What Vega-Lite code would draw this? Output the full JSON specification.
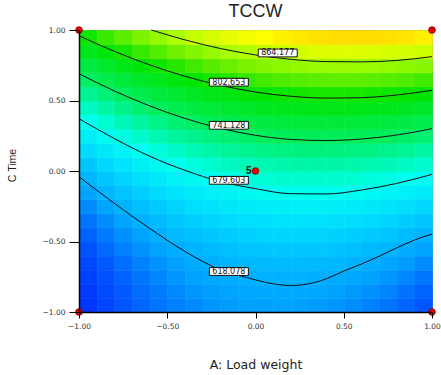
{
  "$schema": "https://vega.github.io/schema/vega-lite/v6.json",
  "width": 353,
  "height": 282,
  "autosize": {"type": "none"},
  "padding": {"left": 79, "top": 30, "right": 9, "bottom": 63},
  "background": "white",
  "view": {"stroke": "#999999", "strokeWidth": 1},
  "title": {"text": "TCCW", "font": "Liberation Sans", "fontSize": 18, "fontWeight": "normal", "color": "#222222", "anchor": "middle", "frame": "group", "offset": 4},
  "config": {
    "axis": {"grid": false, "labelFlush": false, "labelOverlap": false, "labelBound": false, "domainColor": "#000000", "domainWidth": 1.5, "tickColor": "#000000", "tickWidth": 1, "labelFont": "DejaVu Sans", "labelFontSize": 7.5, "labelColor": "#333333"}
  },
  "datasets": {
    "grid": [
      {"A":-0.95,"C":-0.95,"v":559},{"A":-0.85,"C":-0.95,"v":568},{"A":-0.75,"C":-0.95,"v":577},{"A":-0.65,"C":-0.95,"v":584},{"A":-0.55,"C":-0.95,"v":590},{"A":-0.45,"C":-0.95,"v":596},{"A":-0.35,"C":-0.95,"v":600},{"A":-0.25,"C":-0.95,"v":604},{"A":-0.15,"C":-0.95,"v":607},{"A":-0.05,"C":-0.95,"v":609},{"A":0.05,"C":-0.95,"v":609},{"A":0.15,"C":-0.95,"v":610},{"A":0.25,"C":-0.95,"v":609},{"A":0.35,"C":-0.95,"v":607},{"A":0.45,"C":-0.95,"v":604},{"A":0.55,"C":-0.95,"v":601},{"A":0.65,"C":-0.95,"v":596},{"A":0.75,"C":-0.95,"v":591},{"A":0.85,"C":-0.95,"v":584},{"A":0.95,"C":-0.95,"v":577},
      {"A":-0.95,"C":-0.85,"v":562},{"A":-0.85,"C":-0.85,"v":571},{"A":-0.75,"C":-0.85,"v":579},{"A":-0.65,"C":-0.85,"v":587},{"A":-0.55,"C":-0.85,"v":593},{"A":-0.45,"C":-0.85,"v":599},{"A":-0.35,"C":-0.85,"v":604},{"A":-0.25,"C":-0.85,"v":608},{"A":-0.15,"C":-0.85,"v":611},{"A":-0.05,"C":-0.85,"v":613},{"A":0.05,"C":-0.85,"v":614},{"A":0.15,"C":-0.85,"v":614},{"A":0.25,"C":-0.85,"v":614},{"A":0.35,"C":-0.85,"v":612},{"A":0.45,"C":-0.85,"v":609},{"A":0.55,"C":-0.85,"v":606},{"A":0.65,"C":-0.85,"v":602},{"A":0.75,"C":-0.85,"v":597},{"A":0.85,"C":-0.85,"v":590},{"A":0.95,"C":-0.85,"v":583},
      {"A":-0.95,"C":-0.75,"v":565},{"A":-0.85,"C":-0.75,"v":575},{"A":-0.75,"C":-0.75,"v":583},{"A":-0.65,"C":-0.75,"v":591},{"A":-0.55,"C":-0.75,"v":598},{"A":-0.45,"C":-0.75,"v":604},{"A":-0.35,"C":-0.75,"v":609},{"A":-0.25,"C":-0.75,"v":613},{"A":-0.15,"C":-0.75,"v":616},{"A":-0.05,"C":-0.75,"v":618},{"A":0.05,"C":-0.75,"v":620},{"A":0.15,"C":-0.75,"v":620},{"A":0.25,"C":-0.75,"v":620},{"A":0.35,"C":-0.75,"v":618},{"A":0.45,"C":-0.75,"v":616},{"A":0.55,"C":-0.75,"v":613},{"A":0.65,"C":-0.75,"v":609},{"A":0.75,"C":-0.75,"v":604},{"A":0.85,"C":-0.75,"v":598},{"A":0.95,"C":-0.75,"v":591},
      {"A":-0.95,"C":-0.65,"v":570},{"A":-0.85,"C":-0.65,"v":579},{"A":-0.75,"C":-0.65,"v":588},{"A":-0.65,"C":-0.65,"v":596},{"A":-0.55,"C":-0.65,"v":603},{"A":-0.45,"C":-0.65,"v":609},{"A":-0.35,"C":-0.65,"v":615},{"A":-0.25,"C":-0.65,"v":619},{"A":-0.15,"C":-0.65,"v":622},{"A":-0.05,"C":-0.65,"v":625},{"A":0.05,"C":-0.65,"v":626},{"A":0.15,"C":-0.65,"v":627},{"A":0.25,"C":-0.65,"v":627},{"A":0.35,"C":-0.65,"v":626},{"A":0.45,"C":-0.65,"v":624},{"A":0.55,"C":-0.65,"v":621},{"A":0.65,"C":-0.65,"v":617},{"A":0.75,"C":-0.65,"v":612},{"A":0.85,"C":-0.65,"v":607},{"A":0.95,"C":-0.65,"v":600},
      {"A":-0.95,"C":-0.55,"v":576},{"A":-0.85,"C":-0.55,"v":586},{"A":-0.75,"C":-0.55,"v":595},{"A":-0.65,"C":-0.55,"v":603},{"A":-0.55,"C":-0.55,"v":610},{"A":-0.45,"C":-0.55,"v":616},{"A":-0.35,"C":-0.55,"v":622},{"A":-0.25,"C":-0.55,"v":626},{"A":-0.15,"C":-0.55,"v":630},{"A":-0.05,"C":-0.55,"v":633},{"A":0.05,"C":-0.55,"v":635},{"A":0.15,"C":-0.55,"v":635},{"A":0.25,"C":-0.55,"v":635},{"A":0.35,"C":-0.55,"v":635},{"A":0.45,"C":-0.55,"v":633},{"A":0.55,"C":-0.55,"v":630},{"A":0.65,"C":-0.55,"v":626},{"A":0.75,"C":-0.55,"v":622},{"A":0.85,"C":-0.55,"v":616},{"A":0.95,"C":-0.55,"v":610},
      {"A":-0.95,"C":-0.45,"v":583},{"A":-0.85,"C":-0.45,"v":593},{"A":-0.75,"C":-0.45,"v":602},{"A":-0.65,"C":-0.45,"v":610},{"A":-0.55,"C":-0.45,"v":618},{"A":-0.45,"C":-0.45,"v":625},{"A":-0.35,"C":-0.45,"v":630},{"A":-0.25,"C":-0.45,"v":635},{"A":-0.15,"C":-0.45,"v":639},{"A":-0.05,"C":-0.45,"v":642},{"A":0.05,"C":-0.45,"v":644},{"A":0.15,"C":-0.45,"v":645},{"A":0.25,"C":-0.45,"v":645},{"A":0.35,"C":-0.45,"v":644},{"A":0.45,"C":-0.45,"v":643},{"A":0.55,"C":-0.45,"v":640},{"A":0.65,"C":-0.45,"v":637},{"A":0.75,"C":-0.45,"v":633},{"A":0.85,"C":-0.45,"v":627},{"A":0.95,"C":-0.45,"v":621},
      {"A":-0.95,"C":-0.35,"v":591},{"A":-0.85,"C":-0.35,"v":601},{"A":-0.75,"C":-0.35,"v":611},{"A":-0.65,"C":-0.35,"v":619},{"A":-0.55,"C":-0.35,"v":627},{"A":-0.45,"C":-0.35,"v":634},{"A":-0.35,"C":-0.35,"v":640},{"A":-0.25,"C":-0.35,"v":645},{"A":-0.15,"C":-0.35,"v":649},{"A":-0.05,"C":-0.35,"v":652},{"A":0.05,"C":-0.35,"v":654},{"A":0.15,"C":-0.35,"v":656},{"A":0.25,"C":-0.35,"v":656},{"A":0.35,"C":-0.35,"v":656},{"A":0.45,"C":-0.35,"v":654},{"A":0.55,"C":-0.35,"v":652},{"A":0.65,"C":-0.35,"v":649},{"A":0.75,"C":-0.35,"v":645},{"A":0.85,"C":-0.35,"v":640},{"A":0.95,"C":-0.35,"v":634},
      {"A":-0.95,"C":-0.25,"v":600},{"A":-0.85,"C":-0.25,"v":611},{"A":-0.75,"C":-0.25,"v":621},{"A":-0.65,"C":-0.25,"v":630},{"A":-0.55,"C":-0.25,"v":637},{"A":-0.45,"C":-0.25,"v":644},{"A":-0.35,"C":-0.25,"v":651},{"A":-0.25,"C":-0.25,"v":656},{"A":-0.15,"C":-0.25,"v":660},{"A":-0.05,"C":-0.25,"v":663},{"A":0.05,"C":-0.25,"v":666},{"A":0.15,"C":-0.25,"v":667},{"A":0.25,"C":-0.25,"v":668},{"A":0.35,"C":-0.25,"v":668},{"A":0.45,"C":-0.25,"v":667},{"A":0.55,"C":-0.25,"v":665},{"A":0.65,"C":-0.25,"v":662},{"A":0.75,"C":-0.25,"v":658},{"A":0.85,"C":-0.25,"v":653},{"A":0.95,"C":-0.25,"v":647},
      {"A":-0.95,"C":-0.15,"v":611},{"A":-0.85,"C":-0.15,"v":622},{"A":-0.75,"C":-0.15,"v":632},{"A":-0.65,"C":-0.15,"v":641},{"A":-0.55,"C":-0.15,"v":649},{"A":-0.45,"C":-0.15,"v":656},{"A":-0.35,"C":-0.15,"v":663},{"A":-0.25,"C":-0.15,"v":668},{"A":-0.15,"C":-0.15,"v":672},{"A":-0.05,"C":-0.15,"v":676},{"A":0.05,"C":-0.15,"v":679},{"A":0.15,"C":-0.15,"v":681},{"A":0.25,"C":-0.15,"v":681},{"A":0.35,"C":-0.15,"v":681},{"A":0.45,"C":-0.15,"v":680},{"A":0.55,"C":-0.15,"v":679},{"A":0.65,"C":-0.15,"v":676},{"A":0.75,"C":-0.15,"v":672},{"A":0.85,"C":-0.15,"v":668},{"A":0.95,"C":-0.15,"v":662},
      {"A":-0.95,"C":-0.05,"v":623},{"A":-0.85,"C":-0.05,"v":634},{"A":-0.75,"C":-0.05,"v":644},{"A":-0.65,"C":-0.05,"v":653},{"A":-0.55,"C":-0.05,"v":662},{"A":-0.45,"C":-0.05,"v":669},{"A":-0.35,"C":-0.05,"v":676},{"A":-0.25,"C":-0.05,"v":681},{"A":-0.15,"C":-0.05,"v":686},{"A":-0.05,"C":-0.05,"v":690},{"A":0.05,"C":-0.05,"v":693},{"A":0.15,"C":-0.05,"v":695},{"A":0.25,"C":-0.05,"v":696},{"A":0.35,"C":-0.05,"v":696},{"A":0.45,"C":-0.05,"v":695},{"A":0.55,"C":-0.05,"v":694},{"A":0.65,"C":-0.05,"v":691},{"A":0.75,"C":-0.05,"v":688},{"A":0.85,"C":-0.05,"v":683},{"A":0.95,"C":-0.05,"v":678},
      {"A":-0.95,"C":0.05,"v":636},{"A":-0.85,"C":0.05,"v":647},{"A":-0.75,"C":0.05,"v":658},{"A":-0.65,"C":0.05,"v":667},{"A":-0.55,"C":0.05,"v":676},{"A":-0.45,"C":0.05,"v":683},{"A":-0.35,"C":0.05,"v":690},{"A":-0.25,"C":0.05,"v":696},{"A":-0.15,"C":0.05,"v":701},{"A":-0.05,"C":0.05,"v":705},{"A":0.05,"C":0.05,"v":708},{"A":0.15,"C":0.05,"v":710},{"A":0.25,"C":0.05,"v":712},{"A":0.35,"C":0.05,"v":712},{"A":0.45,"C":0.05,"v":712},{"A":0.55,"C":0.05,"v":710},{"A":0.65,"C":0.05,"v":708},{"A":0.75,"C":0.05,"v":705},{"A":0.85,"C":0.05,"v":700},{"A":0.95,"C":0.05,"v":695},
      {"A":-0.95,"C":0.15,"v":650},{"A":-0.85,"C":0.15,"v":662},{"A":-0.75,"C":0.15,"v":672},{"A":-0.65,"C":0.15,"v":682},{"A":-0.55,"C":0.15,"v":691},{"A":-0.45,"C":0.15,"v":699},{"A":-0.35,"C":0.15,"v":706},{"A":-0.25,"C":0.15,"v":712},{"A":-0.15,"C":0.15,"v":717},{"A":-0.05,"C":0.15,"v":721},{"A":0.05,"C":0.15,"v":725},{"A":0.15,"C":0.15,"v":727},{"A":0.25,"C":0.15,"v":729},{"A":0.35,"C":0.15,"v":729},{"A":0.45,"C":0.15,"v":729},{"A":0.55,"C":0.15,"v":728},{"A":0.65,"C":0.15,"v":726},{"A":0.75,"C":0.15,"v":723},{"A":0.85,"C":0.15,"v":719},{"A":0.95,"C":0.15,"v":714},
      {"A":-0.95,"C":0.25,"v":666},{"A":-0.85,"C":0.25,"v":677},{"A":-0.75,"C":0.25,"v":688},{"A":-0.65,"C":0.25,"v":698},{"A":-0.55,"C":0.25,"v":707},{"A":-0.45,"C":0.25,"v":715},{"A":-0.35,"C":0.25,"v":722},{"A":-0.25,"C":0.25,"v":729},{"A":-0.15,"C":0.25,"v":734},{"A":-0.05,"C":0.25,"v":739},{"A":0.05,"C":0.25,"v":742},{"A":0.15,"C":0.25,"v":745},{"A":0.25,"C":0.25,"v":747},{"A":0.35,"C":0.25,"v":747},{"A":0.45,"C":0.25,"v":747},{"A":0.55,"C":0.25,"v":746},{"A":0.65,"C":0.25,"v":745},{"A":0.75,"C":0.25,"v":742},{"A":0.85,"C":0.25,"v":738},{"A":0.95,"C":0.25,"v":734},
      {"A":-0.95,"C":0.35,"v":682},{"A":-0.85,"C":0.35,"v":694},{"A":-0.75,"C":0.35,"v":705},{"A":-0.65,"C":0.35,"v":715},{"A":-0.55,"C":0.35,"v":725},{"A":-0.45,"C":0.35,"v":733},{"A":-0.35,"C":0.35,"v":740},{"A":-0.25,"C":0.35,"v":747},{"A":-0.15,"C":0.35,"v":753},{"A":-0.05,"C":0.35,"v":757},{"A":0.05,"C":0.35,"v":761},{"A":0.15,"C":0.35,"v":764},{"A":0.25,"C":0.35,"v":766},{"A":0.35,"C":0.35,"v":767},{"A":0.45,"C":0.35,"v":767},{"A":0.55,"C":0.35,"v":766},{"A":0.65,"C":0.35,"v":765},{"A":0.75,"C":0.35,"v":762},{"A":0.85,"C":0.35,"v":759},{"A":0.95,"C":0.35,"v":754},
      {"A":-0.95,"C":0.45,"v":700},{"A":-0.85,"C":0.45,"v":712},{"A":-0.75,"C":0.45,"v":724},{"A":-0.65,"C":0.45,"v":734},{"A":-0.55,"C":0.45,"v":743},{"A":-0.45,"C":0.45,"v":752},{"A":-0.35,"C":0.45,"v":760},{"A":-0.25,"C":0.45,"v":766},{"A":-0.15,"C":0.45,"v":772},{"A":-0.05,"C":0.45,"v":777},{"A":0.05,"C":0.45,"v":781},{"A":0.15,"C":0.45,"v":784},{"A":0.25,"C":0.45,"v":786},{"A":0.35,"C":0.45,"v":788},{"A":0.45,"C":0.45,"v":788},{"A":0.55,"C":0.45,"v":788},{"A":0.65,"C":0.45,"v":786},{"A":0.75,"C":0.45,"v":784},{"A":0.85,"C":0.45,"v":781},{"A":0.95,"C":0.45,"v":776},
      {"A":-0.95,"C":0.55,"v":719},{"A":-0.85,"C":0.55,"v":732},{"A":-0.75,"C":0.55,"v":743},{"A":-0.65,"C":0.55,"v":754},{"A":-0.55,"C":0.55,"v":763},{"A":-0.45,"C":0.55,"v":772},{"A":-0.35,"C":0.55,"v":780},{"A":-0.25,"C":0.55,"v":787},{"A":-0.15,"C":0.55,"v":793},{"A":-0.05,"C":0.55,"v":798},{"A":0.05,"C":0.55,"v":802},{"A":0.15,"C":0.55,"v":806},{"A":0.25,"C":0.55,"v":808},{"A":0.35,"C":0.55,"v":810},{"A":0.45,"C":0.55,"v":810},{"A":0.55,"C":0.55,"v":810},{"A":0.65,"C":0.55,"v":809},{"A":0.75,"C":0.55,"v":807},{"A":0.85,"C":0.55,"v":804},{"A":0.95,"C":0.55,"v":800},
      {"A":-0.95,"C":0.65,"v":739},{"A":-0.85,"C":0.65,"v":752},{"A":-0.75,"C":0.65,"v":764},{"A":-0.65,"C":0.65,"v":775},{"A":-0.55,"C":0.65,"v":784},{"A":-0.45,"C":0.65,"v":793},{"A":-0.35,"C":0.65,"v":802},{"A":-0.25,"C":0.65,"v":809},{"A":-0.15,"C":0.65,"v":815},{"A":-0.05,"C":0.65,"v":820},{"A":0.05,"C":0.65,"v":825},{"A":0.15,"C":0.65,"v":828},{"A":0.25,"C":0.65,"v":831},{"A":0.35,"C":0.65,"v":833},{"A":0.45,"C":0.65,"v":834},{"A":0.55,"C":0.65,"v":834},{"A":0.65,"C":0.65,"v":833},{"A":0.75,"C":0.65,"v":831},{"A":0.85,"C":0.65,"v":828},{"A":0.95,"C":0.65,"v":824},
      {"A":-0.95,"C":0.75,"v":761},{"A":-0.85,"C":0.75,"v":774},{"A":-0.75,"C":0.75,"v":786},{"A":-0.65,"C":0.75,"v":797},{"A":-0.55,"C":0.75,"v":807},{"A":-0.45,"C":0.75,"v":816},{"A":-0.35,"C":0.75,"v":824},{"A":-0.25,"C":0.75,"v":832},{"A":-0.15,"C":0.75,"v":838},{"A":-0.05,"C":0.75,"v":844},{"A":0.05,"C":0.75,"v":849},{"A":0.15,"C":0.75,"v":852},{"A":0.25,"C":0.75,"v":855},{"A":0.35,"C":0.75,"v":857},{"A":0.45,"C":0.75,"v":858},{"A":0.55,"C":0.75,"v":858},{"A":0.65,"C":0.75,"v":857},{"A":0.75,"C":0.75,"v":856},{"A":0.85,"C":0.75,"v":853},{"A":0.95,"C":0.75,"v":850},
      {"A":-0.95,"C":0.85,"v":784},{"A":-0.85,"C":0.85,"v":797},{"A":-0.75,"C":0.85,"v":809},{"A":-0.65,"C":0.85,"v":820},{"A":-0.55,"C":0.85,"v":830},{"A":-0.45,"C":0.85,"v":840},{"A":-0.35,"C":0.85,"v":848},{"A":-0.25,"C":0.85,"v":856},{"A":-0.15,"C":0.85,"v":863},{"A":-0.05,"C":0.85,"v":868},{"A":0.05,"C":0.85,"v":873},{"A":0.15,"C":0.85,"v":877},{"A":0.25,"C":0.85,"v":880},{"A":0.35,"C":0.85,"v":883},{"A":0.45,"C":0.85,"v":884},{"A":0.55,"C":0.85,"v":884},{"A":0.65,"C":0.85,"v":884},{"A":0.75,"C":0.85,"v":882},{"A":0.85,"C":0.85,"v":880},{"A":0.95,"C":0.85,"v":877},
      {"A":-0.95,"C":0.95,"v":807},{"A":-0.85,"C":0.95,"v":821},{"A":-0.75,"C":0.95,"v":833},{"A":-0.65,"C":0.95,"v":845},{"A":-0.55,"C":0.95,"v":855},{"A":-0.45,"C":0.95,"v":865},{"A":-0.35,"C":0.95,"v":874},{"A":-0.25,"C":0.95,"v":881},{"A":-0.15,"C":0.95,"v":888},{"A":-0.05,"C":0.95,"v":894},{"A":0.05,"C":0.95,"v":899},{"A":0.15,"C":0.95,"v":904},{"A":0.25,"C":0.95,"v":907},{"A":0.35,"C":0.95,"v":909},{"A":0.45,"C":0.95,"v":911},{"A":0.55,"C":0.95,"v":911},{"A":0.65,"C":0.95,"v":911},{"A":0.75,"C":0.95,"v":910},{"A":0.85,"C":0.95,"v":908},{"A":0.95,"C":0.95,"v":905}
    ],
    "contours": [
      {"level":"618.078","A":-1,"C":-0.041},{"level":"618.078","A":-0.8,"C":-0.229},{"level":"618.078","A":-0.6,"C":-0.407},{"level":"618.078","A":-0.4,"C":-0.57},{"level":"618.078","A":-0.2,"C":-0.70},{"level":"618.078","A":-0.05,"C":-0.755},{"level":"618.078","A":0.1,"C":-0.80},{"level":"618.078","A":0.2,"C":-0.812},{"level":"618.078","A":0.3,"C":-0.80},{"level":"618.078","A":0.4,"C":-0.765},{"level":"618.078","A":0.5,"C":-0.71},{"level":"618.078","A":0.6,"C":-0.66},{"level":"618.078","A":0.7,"C":-0.605},{"level":"618.078","A":0.8,"C":-0.545},{"level":"618.078","A":0.9,"C":-0.49},{"level":"618.078","A":1,"C":-0.447},
      {"level":"679.603","A":-1,"C":0.371},{"level":"679.603","A":-0.8,"C":0.230},{"level":"679.603","A":-0.6,"C":0.105},{"level":"679.603","A":-0.4,"C":0.005},{"level":"679.603","A":-0.2,"C":-0.075},{"level":"679.603","A":0,"C":-0.125},{"level":"679.603","A":0.2,"C":-0.161},{"level":"679.603","A":0.4,"C":-0.163},{"level":"679.603","A":0.6,"C":-0.135},{"level":"679.603","A":0.8,"C":-0.088},{"level":"679.603","A":1,"C":-0.024},
      {"level":"741.128","A":-1,"C":0.690},{"level":"741.128","A":-0.8,"C":0.568},{"level":"741.128","A":-0.6,"C":0.462},{"level":"741.128","A":-0.4,"C":0.373},{"level":"741.128","A":-0.2,"C":0.303},{"level":"741.128","A":0,"C":0.253},{"level":"741.128","A":0.2,"C":0.224},{"level":"741.128","A":0.4,"C":0.216},{"level":"741.128","A":0.6,"C":0.227},{"level":"741.128","A":0.8,"C":0.255},{"level":"741.128","A":1,"C":0.300},
      {"level":"802.653","A":-1,"C":0.959},{"level":"802.653","A":-0.8,"C":0.849},{"level":"802.653","A":-0.6,"C":0.753},{"level":"802.653","A":-0.4,"C":0.672},{"level":"802.653","A":-0.2,"C":0.608},{"level":"802.653","A":0,"C":0.560},{"level":"802.653","A":0.2,"C":0.530},{"level":"802.653","A":0.4,"C":0.517},{"level":"802.653","A":0.6,"C":0.520},{"level":"802.653","A":0.8,"C":0.539},{"level":"802.653","A":1,"C":0.572},
      {"level":"864.177","A":-0.59,"C":1.0},{"level":"864.177","A":-0.4,"C":0.930},{"level":"864.177","A":-0.2,"C":0.869},{"level":"864.177","A":0,"C":0.823},{"level":"864.177","A":0.2,"C":0.792},{"level":"864.177","A":0.4,"C":0.776},{"level":"864.177","A":0.6,"C":0.774},{"level":"864.177","A":0.8,"C":0.784},{"level":"864.177","A":1,"C":0.811}
    ],
    "labels": [
      {"A":0.126,"C":0.837,"t":"864.177"},
      {"A":-0.151,"C":0.630,"t":"802.653"},
      {"A":-0.151,"C":0.324,"t":"741.128"},
      {"A":-0.151,"C":-0.066,"t":"679.603"},
      {"A":-0.151,"C":-0.713,"t":"618.078"}
    ],
    "design": [
      {"A":-1,"C":-1,"n":""},{"A":-1,"C":1,"n":""},{"A":1,"C":-1,"n":""},{"A":1,"C":1,"n":""},{"A":0,"C":0,"n":"5"}
    ]
  },
  "layer": [
    {
      "data": {"name": "grid"},
      "mark": {"type": "rect", "strokeWidth": 0.6},
      "encoding": {
        "x": {"field": "A", "type": "quantitative", "bin": {"step": 0.1, "extent": [-1, 1]},
              "scale": {"domain": [-1, 1], "nice": false, "zero": false},
              "axis": {"title": "A: Load weight", "values": [-1, -0.5, 0, 0.5, 1], "format": ".2f", "tickSize": 6, "labelPadding": 4,
                       "titleFont": "DejaVu Sans", "titleFontSize": 12.5, "titleFontWeight": "normal", "titleColor": "#222222", "titleY": 56, "titleBaseline": "alphabetic"}},
        "y": {"field": "C", "type": "quantitative", "bin": {"step": 0.1, "extent": [-1, 1]},
              "scale": {"domain": [-1, 1], "nice": false, "zero": false},
              "axis": {"title": "C Time", "values": [-1, -0.5, 0, 0.5, 1], "format": ".2f", "tickSize": 10, "labelPadding": 4,
                       "titleFont": "Liberation Sans", "titleFontSize": 10.5, "titleFontWeight": "normal", "titleColor": "#222222", "titleAngle": 270, "titleX": -67, "titleY": 135, "titleAlign": "center", "titleBaseline": "middle"}},
        "color": {"field": "v", "type": "quantitative", "legend": null,
                  "scale": {"domain": [550, 575, 610, 650, 682, 741, 802, 840, 864, 885, 900, 915],
                            "range": ["#0028ff", "#0050ff", "#00a4ff", "#00dcff", "#00fff0", "#00ee60", "#00e400", "#70f000", "#a8ff00", "#e0ff00", "#ffff00", "#ffd000"],
                            "interpolate": "rgb"}},
        "stroke": {"field": "v", "type": "quantitative", "legend": null,
                  "scale": {"domain": [550, 575, 610, 650, 682, 741, 802, 840, 864, 885, 900, 915],
                            "range": ["#0028ff", "#0050ff", "#00a4ff", "#00dcff", "#00fff0", "#00ee60", "#00e400", "#70f000", "#a8ff00", "#e0ff00", "#ffff00", "#ffd000"],
                            "interpolate": "rgb"}}
      }
    },
    {
      "data": {"name": "contours"},
      "mark": {"type": "line", "color": "#111111", "strokeWidth": 1, "interpolate": "monotone"},
      "encoding": {
        "x": {"field": "A", "type": "quantitative"},
        "y": {"field": "C", "type": "quantitative"},
        "detail": {"field": "level", "type": "nominal"}
      }
    },
    {
      "data": {"name": "labels"},
      "mark": {"type": "point", "shape": "M-1,-0.2L1,-0.2L1,0.2L-1,0.2Z", "size": 1521, "filled": true, "fill": "#ffffff", "stroke": "#111111", "strokeWidth": 1, "opacity": 1},
      "encoding": {
        "x": {"field": "A", "type": "quantitative"},
        "y": {"field": "C", "type": "quantitative"}
      }
    },
    {
      "data": {"name": "labels"},
      "mark": {"type": "text", "font": "DejaVu Sans", "fontSize": 8, "color": "#111111", "align": "center", "baseline": "middle", "dy": 0.5},
      "encoding": {
        "x": {"field": "A", "type": "quantitative"},
        "y": {"field": "C", "type": "quantitative"},
        "text": {"field": "t", "type": "nominal"}
      }
    },
    {
      "data": {"name": "design"},
      "mark": {"type": "point", "shape": "circle", "size": 45, "filled": true, "fill": "#ee0000", "stroke": "#700000", "strokeWidth": 0.8, "opacity": 1},
      "encoding": {
        "x": {"field": "A", "type": "quantitative"},
        "y": {"field": "C", "type": "quantitative"}
      }
    },
    {
      "data": {"name": "design"},
      "mark": {"type": "text", "font": "Liberation Sans", "fontSize": 10, "fontWeight": "bold", "color": "#111111", "align": "right", "baseline": "middle", "dx": -4},
      "encoding": {
        "x": {"field": "A", "type": "quantitative"},
        "y": {"field": "C", "type": "quantitative"},
        "text": {"field": "n", "type": "nominal"}
      }
    }
  ]
}
